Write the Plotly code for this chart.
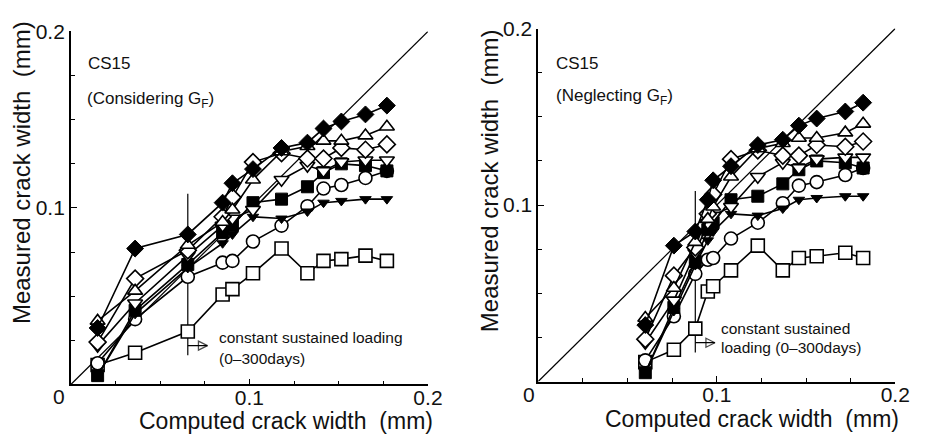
import plotly.graph_objects as go

W, H = 928, 436

# Computed crack width per load step (mm)
x_considering = [0.015, 0.036, 0.0655, 0.085, 0.0905, 0.102, 0.118, 0.1325, 0.1415, 0.1515, 0.165, 0.177]
x_neglecting = [0.060, 0.076, 0.088, 0.095, 0.098, 0.108, 0.123, 0.137, 0.146, 0.156, 0.172, 0.182]

# Measured crack width (mm) per series
y_filled_diamond = [0.032, 0.077, 0.085, 0.103, 0.114, 0.122, 0.134, 0.137, 0.145, 0.149, 0.153, 0.158]
y_open_tri_up = [0.036, 0.053, 0.079, 0.092, 0.099, 0.116, 0.132, 0.135, 0.138, 0.138, 0.141, 0.146]
y_open_diamond = [0.024, 0.060, 0.076, 0.095, 0.106, 0.126, 0.131, 0.128, 0.128, 0.134, 0.133, 0.136]
y_open_tri_down = [0.022, 0.046, 0.073, 0.090, 0.094, 0.099, 0.116, 0.124, 0.121, 0.126, 0.127, 0.127]
y_filled_square = [0.005, 0.042, 0.068, 0.086, 0.090, 0.103, 0.105, 0.112, 0.120, 0.125, 0.124, 0.121]
y_filled_tri_down = [0.005, 0.040, 0.066, 0.080, 0.085, 0.095, 0.094, 0.098, 0.103, 0.104, 0.105, 0.105]
y_open_circle = [0.012, 0.037, 0.061, 0.069, 0.070, 0.081, 0.090, 0.101, 0.111, 0.113, 0.117, 0.121]
y_open_square = [0.011, 0.018, 0.030, 0.051, 0.054, 0.063, 0.077, 0.063, 0.070, 0.071, 0.073, 0.070]

diag = [0.0, 0.2]
axis_ticks = [0.1, 0.2]
axis_ticktext = ["0.1", "0.2"]

# sustained loading marker (x position, y span, arrow)
sustained_x = {"left": 0.0655, "right": 0.088}
sustained_span = [0.0165, 0.108]
arrow_y = 0.022
arrow_len = 0.011

series = [
    (y_open_square, dict(symbol="square", size=13, color="white", line=dict(color="black", width=1.6))),
    (y_open_circle, dict(symbol="circle", size=13, color="white", line=dict(color="black", width=1.6))),
    (y_filled_tri_down, dict(symbol="triangle-down", size=10, color="black", line=dict(color="black", width=1))),
    (y_filled_square, dict(symbol="square", size=12, color="black", line=dict(color="black", width=1))),
    (y_open_tri_down, dict(symbol="triangle-down", size=13, color="white", line=dict(color="black", width=1.6))),
    (y_open_diamond, dict(symbol="diamond", size=13, color="white", line=dict(color="black", width=1.6))),
    (y_open_tri_up, dict(symbol="triangle-up", size=13, color="white", line=dict(color="black", width=1.6))),
    (y_filled_diamond, dict(symbol="diamond", size=13, color="black", line=dict(color="black", width=1))),
]

fig = go.Figure()

panels = [("x", "y", x_considering, "left"), ("x2", "y2", x_neglecting, "right")]
for xa, ya, xs, side in panels:
    fig.add_trace(go.Scatter(x=diag, y=diag, mode="lines", line=dict(color="black", width=1.2),
                             xaxis=xa, yaxis=ya, showlegend=False, hoverinfo="skip"))
    sx = sustained_x[side]
    fig.add_trace(go.Scatter(x=[sx, sx], y=sustained_span, mode="lines", line=dict(color="black", width=1.2),
                             xaxis=xa, yaxis=ya, showlegend=False, hoverinfo="skip"))
    # arrow: shaft + arrowhead marker at the tip
    fig.add_trace(go.Scatter(x=[sx, sx + arrow_len], y=[arrow_y, arrow_y], mode="lines+markers",
                             line=dict(color="black", width=1.2),
                             marker=dict(symbol=["circle", "arrow-right-open"], size=[0, 9],
                                         color="black", line=dict(color="black", width=1.3)),
                             xaxis=xa, yaxis=ya, showlegend=False, hoverinfo="skip"))
    for ys, mk in series:
        fig.add_trace(go.Scatter(x=xs, y=ys, mode="lines+markers", line=dict(color="black", width=1.6),
                                 marker=mk, xaxis=xa, yaxis=ya, showlegend=False))


def px(xp, yp):
    return xp / W, 1 - yp / H


font_family = "Liberation Sans, Arial, Helvetica, sans-serif"
axis_common = dict(range=[0, 0.2], showgrid=False, zeroline=False, showline=True, linecolor="black",
                   linewidth=1.5, ticks="inside", ticklen=6, tickwidth=1.3, tickcolor="black",
                   tickmode="array", tickvals=axis_ticks, ticktext=axis_ticktext,
                   tickfont=dict(family=font_family, size=21, color="#111"),
                   minor=dict(tickmode="linear", tick0=0, dtick=0.025, ticks="inside", ticklen=4,
                              tickwidth=1.3, tickcolor="black"))
xaxis_extra = dict(ticklabelstandoff=-6)

fig.update_layout(
    width=W, height=H, margin=dict(l=0, r=0, t=0, b=0),
    paper_bgcolor="white", plot_bgcolor="white",
    xaxis=dict(domain=[72 / W, 435 / W], anchor="y", **axis_common, **xaxis_extra),
    yaxis=dict(domain=[1 - 383 / H, 1 - 20 / H], anchor="x", **axis_common),
    xaxis2=dict(domain=[547 / W, 910 / W], anchor="y2", **axis_common, **xaxis_extra),
    yaxis2=dict(domain=[1 - 380 / H, 1 - 17 / H], anchor="x2", **axis_common),
)

texts = [
    ("0", 60, 395, "center", "middle", 21, 0),
    ("0", 538, 393, "center", "middle", 21, 0),
    ("Computed crack width&nbsp;&nbsp;(mm)", 291, 436, "center", "bottom", 23, 0),
    ("Computed crack width&nbsp;&nbsp;(mm)", 764, 434, "center", "bottom", 23, 0),
    ("Measured crack width&nbsp;&nbsp;(mm)", 22, 165, "center", "middle", 24, -90),
    ("Measured crack width&nbsp;&nbsp;(mm)", 497, 173, "center", "middle", 24, -90),
    ("CS15", 87, 53, "left", "middle", 17, 0),
    ("(Considering G<sub>F</sub>)", 86, 90, "left", "middle", 17, 0),
    ("CS15", 563, 53, "left", "middle", 17, 0),
    ("(Neglecting G<sub>F</sub>)", 563, 87, "left", "middle", 17, 0),
    ("constant sustained loading", 221, 335, "left", "middle", 15.5, 0),
    ("(0–300days)", 221, 356, "left", "middle", 15.5, 0),
    ("constant sustained", 731, 325, "left", "middle", 15.5, 0),
    ("loading (0–300days)", 731, 345, "left", "middle", 15.5, 0),
]
for t, xp, yp, anchor, vanchor, size, ang in texts:
    xx, yy = px(xp, yp)
    fig.add_annotation(x=xx, y=yy, xref="paper", yref="paper", text=t, showarrow=False,
                       xanchor=anchor, yanchor=vanchor, textangle=ang,
                       font=dict(family=font_family, size=size, color="#111"))

fig.write_html("out.html")
